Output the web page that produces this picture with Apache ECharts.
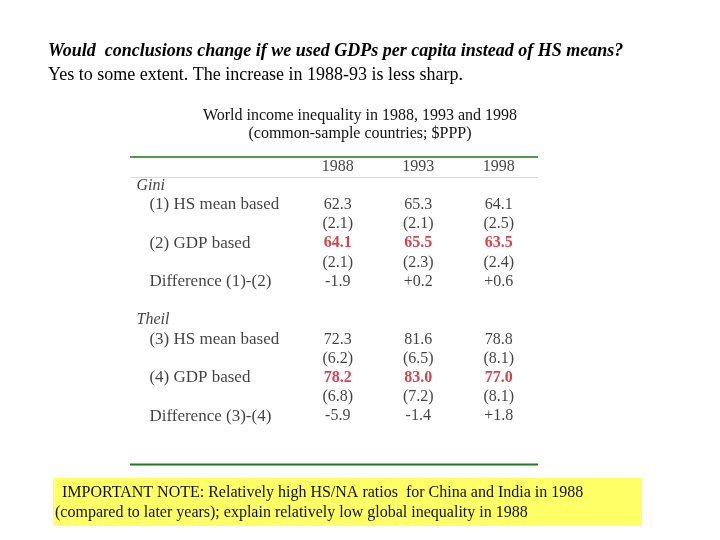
<!DOCTYPE html>
<html>
<head>
<meta charset="utf-8">
<script src="https://cdn.jsdelivr.net/npm/echarts@6/dist/echarts.min.js"></script>
<style>html,body{margin:0;padding:0;background:#fff}#c{width:720px;height:540px}</style>
</head>
<body>
<div id="c"></div>
<script>
var years = ['1988', '1993', '1998'];
var groupTitles = ['Gini', 'Theil'];
var giniLabels = ['(1) HS mean based', '', '(2) GDP based', '', 'Difference (1)-(2)'];
var theilLabels = ['(3) HS mean based', '', '(4) GDP based', '', 'Difference (3)-(4)'];
var giniHS = ['62.3', '65.3', '64.1'];
var giniHSse = ['(2.1)', '(2.1)', '(2.5)'];
var giniGDP = ['64.1', '65.5', '63.5'];
var giniGDPse = ['(2.1)', '(2.3)', '(2.4)'];
var giniDiff = ['-1.9', '+0.2', '+0.6'];
var theilHS = ['72.3', '81.6', '78.8'];
var theilHSse = ['(6.2)', '(6.5)', '(8.1)'];
var theilGDP = ['78.2', '83.0', '77.0'];
var theilGDPse = ['(6.8)', '(7.2)', '(8.1)'];
var theilDiff = ['-5.9', '-1.4', '+1.8'];

var FONT = 'Liberation Serif';
var chart = echarts.init(document.getElementById('c'));

function rowData(vals, row) {
  return vals.map(function (v, i) { return [i, row, v]; });
}
var normalVals = [].concat(
  rowData(giniHS, 2), rowData(giniHSse, 3), rowData(giniGDPse, 5), rowData(giniDiff, 6),
  rowData(theilHS, 9), rowData(theilHSse, 10), rowData(theilGDPse, 12), rowData(theilDiff, 13)
);
var redVals = [].concat(rowData(giniGDP, 4), rowData(theilGDP, 11));
var headerVals = rowData(years, 0);
var titleData = [[-2.5, 1, groupTitles[0]], [-2.5, 8, groupTitles[1]]];
var labelData = [];
giniLabels.forEach(function (l, i) { if (l) labelData.push([-2.34, 2 + i, l]); });
theilLabels.forEach(function (l, i) { if (l) labelData.push([-2.34, 9 + i, l]); });

function textSeries(data, lab) {
  return {
    type: 'scatter', data: data, symbolSize: 1, silent: true,
    itemStyle: { color: 'rgba(0,0,0,0)' },
    label: Object.assign({
      show: true, position: [0, 0], align: 'center', verticalAlign: 'middle',
      fontFamily: FONT, fontSize: 16, color: '#111',
      formatter: function (p) { return p.value[2]; }
    }, lab)
  };
}

chart.setOption({
  backgroundColor: '#fff',
  animation: false,
  grid: { left: 137, width: 483, top: 167, height: 249.6 },
  xAxis: { type: 'value', min: -2.5, max: 3.5, show: false },
  yAxis: { type: 'value', min: 0, max: 13, inverse: true, show: false },
  series: [
    textSeries(headerVals, {}),
    textSeries(normalVals, {}),
    textSeries(redVals, { color: '#c8141e', fontWeight: 'bold' }),
    textSeries(titleData, { align: 'left', fontStyle: 'italic' }),
    textSeries(labelData, { align: 'left', fontSize: 17 })
  ],
  graphic: [
    { type: 'text', left: 48, top: 42, style: { text: 'Would  conclusions change if we used GDPs per capita instead of HS means?', font: 'italic bold 18px "Liberation Serif"', fill: '#000' } },
    { type: 'text', left: 48, top: 66, style: { text: 'Yes to some extent. The increase in 1988-93 is less sharp.', font: '18px "Liberation Serif"', fill: '#000' } },
    { type: 'text', x: 360, y: 116, style: { text: 'World income inequality in 1988, 1993 and 1998', font: '16px "Liberation Serif"', fill: '#111', textAlign: 'center', textVerticalAlign: 'middle' } },
    { type: 'text', x: 360, y: 134, style: { text: '(common-sample countries; $PPP)', font: '16px "Liberation Serif"', fill: '#111', textAlign: 'center', textVerticalAlign: 'middle' } },
    { type: 'line', shape: { x1: 130, y1: 157, x2: 538, y2: 157 }, style: { stroke: '#4e9a4e', lineWidth: 2 } },
    { type: 'line', shape: { x1: 130, y1: 177.5, x2: 538, y2: 177.5 }, style: { stroke: '#d4dcd4', lineWidth: 1 } },
    { type: 'line', shape: { x1: 130, y1: 464.5, x2: 538, y2: 464.5 }, style: { stroke: '#1f7a1f', lineWidth: 2 } },
    { type: 'rect', shape: { x: 53, y: 478, width: 589, height: 48 }, style: { fill: '#ffff66' } },
    { type: 'text', left: 62, top: 485, style: { text: 'IMPORTANT NOTE: Relatively high HS/NA ratios  for China and India in 1988', font: '16px "Liberation Serif"', fill: '#111' } },
    { type: 'text', left: 55, top: 505, style: { text: '(compared to later years); explain relatively low global inequality in 1988', font: '16px "Liberation Serif"', fill: '#111' } }
  ]
});
</script>
</body>
</html>
